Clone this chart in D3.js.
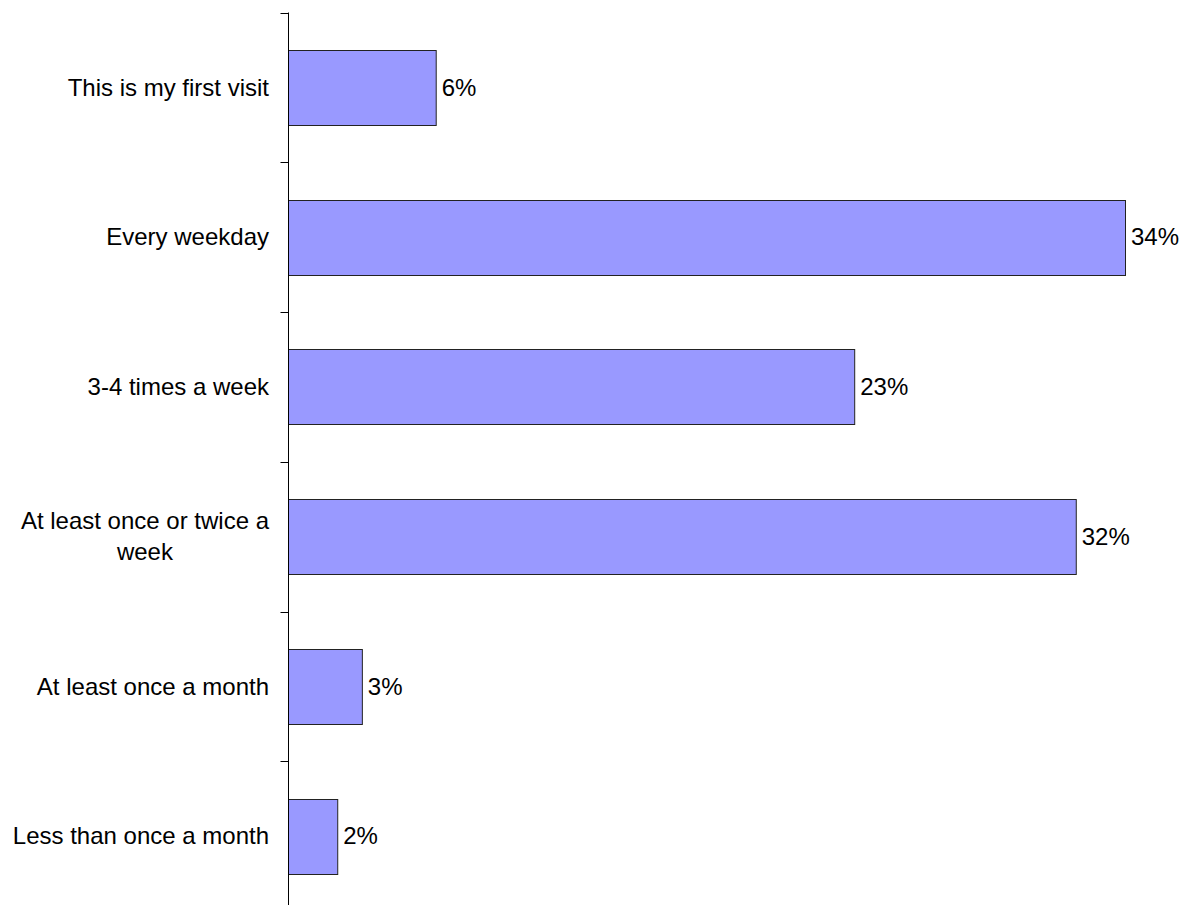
<!DOCTYPE html>
<html>
<head>
<meta charset="utf-8">
<script src="https://cdn.jsdelivr.net/npm/d3@7"></script>
<style>
  html, body { margin: 0; padding: 0; background: #fff; }
  svg { display: block; }
  text { font-family: "Liberation Sans", Arial, sans-serif; fill: #000; }
</style>
</head>
<body>
<svg id="chart" width="1184" height="905"></svg>
<script>
// Visit frequency survey results (percent of respondents)
const categories = [
  "This is my first visit",
  "Every weekday",
  "3-4 times a week",
  "At least once or twice a week",
  "At least once a month",
  "Less than once a month"
];
const values = [6, 34, 23, 32, 3, 2];
// Wrapped label lines for categories that don't fit on one line
const labelLines = {
  "At least once or twice a week": ["At least once or twice a", "week"]
};

const svg = d3.select("#chart");
const axisX = 288.5;
const fontSize = 24;
const baselineShift = 8.3;

const y = d3.scaleBand()
  .domain(categories)
  .range([12.5, 911])
  .paddingInner(0.5)
  .paddingOuter(0.25);

const x = d3.scaleLinear()
  .domain([0, 34])
  .range([axisX, 1125.5]);

// Bars
svg.append("g")
  .selectAll("rect")
  .data(categories)
  .join("rect")
  .attr("x", axisX)
  .attr("y", d => Math.round(y(d)) + 0.5)
  .attr("width", (d, i) => x(values[i]) - axisX)
  .attr("height", Math.round(y.bandwidth()))
  .attr("fill", "#9999ff")
  .attr("stroke", "#222")
  .attr("stroke-width", 1);

// Value labels
svg.append("g")
  .selectAll("text")
  .data(categories)
  .join("text")
  .attr("x", (d, i) => x(values[i]) + 5.5)
  .attr("y", d => y(d) + y.bandwidth() / 2 + baselineShift)
  .attr("font-size", fontSize)
  .text((d, i) => values[i] + "%");

// Category axis with ticks on band boundaries
const axisG = svg.append("g");
axisG.append("line")
  .attr("x1", axisX).attr("x2", axisX)
  .attr("y1", y.range()[0]).attr("y2", y.range()[1])
  .attr("stroke", "#000").attr("stroke-width", 1);

const step = y.step();
const boundaries = categories.map(d => y(d) - step * 0.25).concat([y.range()[1]]);
axisG.selectAll("line.tick")
  .data(boundaries)
  .join("line")
  .attr("class", "tick")
  .attr("x1", axisX - 8).attr("x2", axisX)
  .attr("y1", d => Math.round(d) + 0.5).attr("y2", d => Math.round(d) + 0.5)
  .attr("stroke", "#000").attr("stroke-width", 1);

// Category labels, right-aligned; wrapped labels centered on their widest line
const labelRight = 269;
const lineH = 31;
const labels = axisG.selectAll("g.label")
  .data(categories)
  .join("g")
  .attr("class", "label");

labels.each(function(d) {
  const g = d3.select(this);
  const lines = labelLines[d] || [d];
  const cy = y(d) + y.bandwidth() / 2;
  const top = cy - (lines.length - 1) * lineH / 2 + baselineShift;
  if (lines.length === 1) {
    g.append("text")
      .attr("x", labelRight)
      .attr("y", top)
      .attr("text-anchor", "end")
      .attr("font-size", fontSize)
      .text(lines[0]);
  } else {
    const t = g.selectAll("text").data(lines).join("text")
      .attr("y", (l, i) => top + i * lineH)
      .attr("font-size", fontSize)
      .attr("text-anchor", "middle")
      .text(l => l);
    let maxW = 0;
    t.each(function() { maxW = Math.max(maxW, this.getComputedTextLength()); });
    t.attr("x", labelRight - maxW / 2);
  }
});
</script>
</body>
</html>
